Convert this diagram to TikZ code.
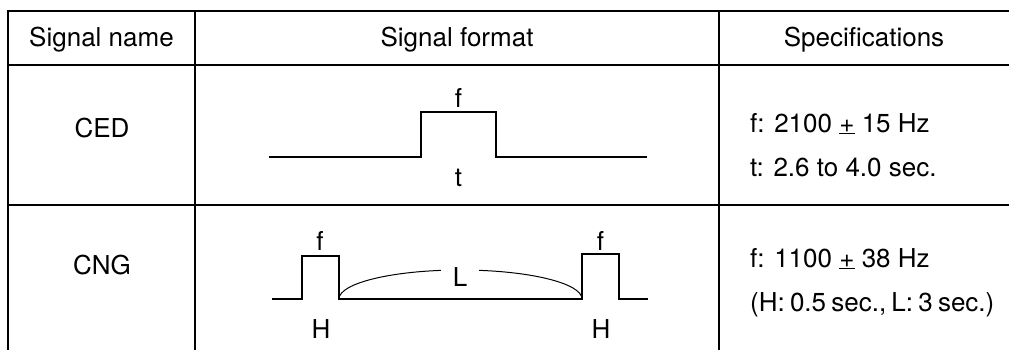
\documentclass[tikz,border=0pt]{standalone}
\usepackage{fontspec}
\setmainfont{TeX Gyre Heros}
\newcommand{\pmu}{\underline{+}}
\begin{document}
\begin{tikzpicture}[x=1pt,y=-1pt,
  frame/.style={line width=2pt},
  rule/.style={line width=1.3pt},
  wave/.style={line width=1.3pt, line join=miter},
  txt/.style={anchor=base, inner sep=0pt, font=\fontsize{26}{30}\selectfont},
  ltxt/.style={anchor=base west, inner sep=0pt, font=\fontsize{26}{30}\selectfont}]
\useasboundingbox (0,0) rectangle (1009,350);
% table lines
\draw[frame] (8,350) -- (8,11) -- (1009,11);
\draw[frame] (8,65) -- (1009,65);
\draw[rule] (195,11) -- (195,350);
\draw[rule] (719,11) -- (719,350);
\draw[rule] (8,205) -- (1009,205);
% header
\node[txt] (h1) at (101.5,47) {Signal name};
\node[txt] (h2) at (457,47) {Signal format};
\node[txt] (h3) at (864,47) {Specifications};
% names
\node[txt] (ced) at (102,138) {CED};
\node[txt] (cng) at (102,274) {CNG};
% CED waveform
\draw[wave] (269,157) -- (421,157) -- (421,112) -- (496,112) -- (496,157) -- (647,157);
\node[txt] (cf) at (458.5,108) {f};
\node[txt] (ct) at (458.5,186) {t};
% CNG waveform
\draw[wave] (272,299) -- (302,299) -- (302,256) -- (339,256) -- (339,299) -- (582,299)
  -- (582,254) -- (619,254) -- (619,299) -- (648,299);
\draw[line width=1pt] (339,299) arc[start angle=180, end angle=360, x radius=121.5, y radius=29];
\node[txt, fill=white, inner xsep=12pt, inner ysep=2pt] (gl) at (460,286) {L};
\node[txt] (gf1) at (320,250) {f};
\node[txt] (gf2) at (600.5,250) {f};
\node[txt] (gh1) at (321,338) {H};
\node[txt] (gh2) at (601,338) {H};
% specs
\node[ltxt] (s1) at (750,132) {f: 2100 \pmu{} 15 Hz};
\node[ltxt] (s2) at (750,176) {t: 2.6 to 4.0 sec.};
\node[ltxt] (s3) at (750,267) {f: 1100 \pmu{} 38 Hz};
\node[ltxt] (s4) at (750,311) {\spaceskip=0.2em plus 0.1em (H: 0.5 sec., L: 3 sec.)};
\end{tikzpicture}
\end{document}
